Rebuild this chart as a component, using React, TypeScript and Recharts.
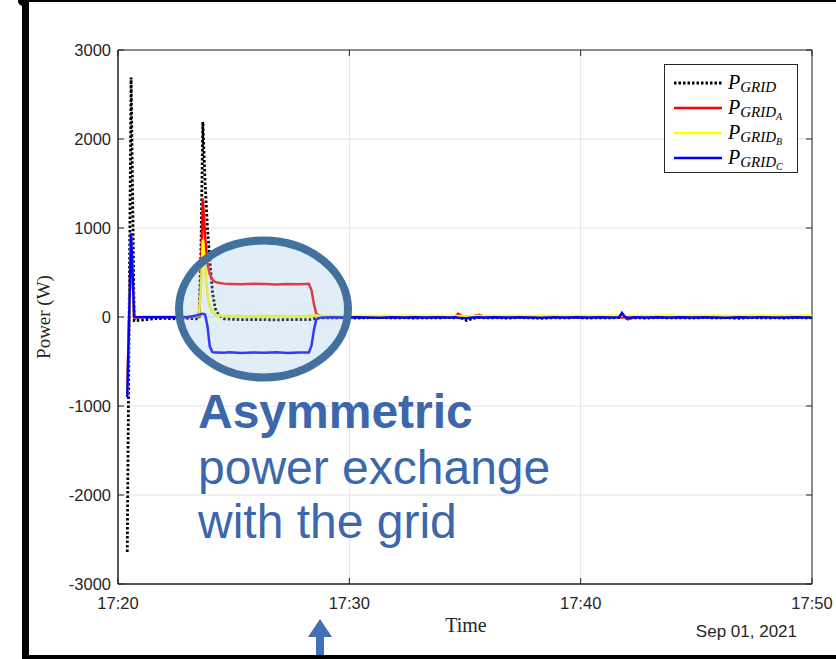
import React from 'react'
import { LineChart, Line, XAxis, YAxis, CartesianGrid, ReferenceArea } from 'recharts'

// seconds after 17:20:00
const times = [
  24, 34, 42, 60, 90, 120, 150, 180, 200, 210,
  215, 220, 226, 232, 238, 245, 252, 260, 275, 290,
  320, 350, 380, 410, 440, 470, 495, 502, 508, 514,
  520, 530, 560, 590, 620, 650, 680, 710, 740, 770,
  800, 830, 860, 875, 882, 892, 905, 920, 937, 950,
  980, 1010, 1040, 1070, 1100, 1130, 1160, 1190, 1220, 1250,
  1280, 1300, 1307, 1315, 1323, 1340, 1370, 1400, 1430, 1460,
  1490, 1520, 1550, 1580, 1610, 1640, 1670, 1700, 1730, 1760,
  1790, 1800,
]

// total grid power (W)
const pGrid = [
  -2640, 2690, -40, -35, -20, -15, -20, -15, -20, -20,
  700, 2190, 1500, 1000, 650, 280, 100, 30, -20, -25,
  -30, -28, -30, -32, -30, -28, -30, -25, -20, -15,
  -10, -8, -10, -5, -12, -8, -5, -10, -8, -12,
  -8, -10, -5, -10, 5, -15, -40, -15, -5, -10,
  -8, -12, -6, -10, -14, -8, -10, -6, -12, -8,
  -10, -6, 10, -12, -15, -8, -12, -6, -10, -8,
  -12, -6, -10, -8, -14, -6, -10, -8, -12, -6,
  -10, -8,
]

// phase A
const pGridA = [
  -880, 900, -10, 0, 5, 0, 5, 0, 5, 0,
  400, 1330, 900, 600, 480, 420, 395, 385, 375, 372,
  368, 374, 370, 366, 372, 368, 374, 300, 150, 40,
  15, 10, 5, 8, 3, 6, 4, 8, 5, 7,
  4, 6, 5, 10, 35, 10, 5, 8, 25, 5,
  6, 3, 7, 4, 8, 5, 3, 7, 4, 6,
  5, 3, -5, 0, -25, 3, 6, 4, 7, 5,
  3, 6, 4, 7, 5, 3, 6, 4, 7, 5,
  4, 6,
]

// phase B
const pGridB = [
  -890, 920, -5, 5, 8, 5, 8, 5, 6, 20,
  300, 870, 550, 250, 120, 55, 30, 18, 12, 10,
  12, 8, 14, 10, 12, 9, 13, 15, 18, 20,
  15, 12, 14, 10, 15, 12, 14, 11, 15, 13,
  12, 15, 11, 14, 12, 10, 5, 12, 14, 11,
  14, 12, 15, 11, 13, 15, 12, 14, 11, 15,
  13, 15, 20, 14, 12, 15, 11, 14, 16, 12,
  15, 13, 16, 12, 15, 14, 16, 13, 15, 14,
  16, 15,
]

// phase C
const pGridC = [
  -900, 940, 0, -3, -2, -4, -2, -3, 15, 25,
  30, 35, 28, -100, -330, -395, -400, -398, -402, -396,
  -404, -398, -402, -396, -404, -398, -400, -320, -150, -30,
  -12, -5, -3, -6, -2, -5, -8, -3, -6, -4,
  -7, -3, -5, -2, -8, -10, -15, -5, -3, -6,
  -4, -7, -3, -5, -8, -4, -6, -3, -7, -4,
  -5, -3, 45, 0, -8, -4, -6, -3, -7, -4,
  -6, -3, -5, -8, -4, -6, -3, -7, -5, -4,
  -6, -5,
]

const xTicks = [0, 600, 1200, 1800]
const xTickLabels = ['17:20', '17:30', '17:40', '17:50']
const yTicks = [-3000, -2000, -1000, 0, 1000, 2000, 3000]

const series = [
  { key: 'grid', sub: '', color: '#000000', width: 2.8, dash: '2.5 2' },
  { key: 'a', sub: 'A', color: '#ff0000', width: 2.5, dash: undefined },
  { key: 'b', sub: 'B', color: '#ffff00', width: 2.5, dash: undefined },
  { key: 'c', sub: 'C', color: '#0000ff', width: 2.5, dash: undefined },
]

const data = times.map((t, i) => ({ t, grid: pGrid[i], a: pGridA[i], b: pGridB[i], c: pGridC[i] }))

const W = 836
const H = 659
const PLOT = { left: 118, right: 812, top: 50, bottom: 584 }
const AXIS = '#262626'
const SANS = '"Liberation Sans", Arial, sans-serif'
const SERIF = '"Liberation Serif", "Times New Roman", serif'
const NOTE = '#3c67ac'

function XTick({ x, payload }: any) {
  const i = xTicks.indexOf(payload.value)
  return (
    <g>
      <line x1={x} x2={x} y1={PLOT.bottom} y2={PLOT.bottom - 6} stroke={AXIS} />
      <line x1={x} x2={x} y1={PLOT.top} y2={PLOT.top + 6} stroke={AXIS} />
      <text x={x} y={PLOT.bottom + 25} textAnchor="middle" fontSize={16.5} fontFamily={SANS} fill={AXIS}>
        {xTickLabels[i]}
      </text>
    </g>
  )
}

function YTick({ y, payload }: any) {
  return (
    <g>
      <line x1={PLOT.left} x2={PLOT.left + 6} y1={y} y2={y} stroke={AXIS} />
      <line x1={PLOT.right} x2={PLOT.right - 6} y1={y} y2={y} stroke={AXIS} />
      <text x={PLOT.left - 7} y={y + 6} textAnchor="end" fontSize={16.5} fontFamily={SANS} fill={AXIS}>
        {payload.value}
      </text>
    </g>
  )
}

function LegendBox() {
  return (
    <svg width={134} height={109} style={{ position: 'absolute', left: 664, top: 64 }}>
      <rect x={0.5} y={0.5} width={133} height={108} fill="#fff" stroke={AXIS} />
      {series.map((s, i) => {
        const y = 19 + i * 25
        return (
          <g key={s.key}>
            <line x1={10} x2={58} y1={y} y2={y} stroke={s.color} strokeWidth={s.width} strokeDasharray={s.dash} />
            <text x={64} y={y + 6} fontFamily={SERIF} fontStyle="italic" fontSize={20} fill="#000">
              P
              <tspan fontSize={15} dy={3}>GRID</tspan>
              {s.sub && <tspan fontSize={10} dy={3}>{s.sub}</tspan>}
            </text>
          </g>
        )
      })}
    </svg>
  )
}

export default function App() {
  return (
    <div style={{ position: 'absolute', left: 0, top: 0, width: W, height: H, background: '#fff', overflow: 'hidden' }}>
      <LineChart width={W} height={H} data={data} margin={{ top: 50, right: 24, bottom: 45, left: 58 }}>
        <CartesianGrid stroke="#e3e3e3" />
        <XAxis
          dataKey="t"
          type="number"
          domain={[0, 1800]}
          ticks={xTicks}
          height={30}
          tickSize={0}
          tickMargin={0}
          tick={<XTick />}
          stroke={AXIS}
        />
        <YAxis
          type="number"
          domain={[-3000, 3000]}
          ticks={yTicks}
          width={60}
          tickSize={0}
          tickMargin={0}
          tick={<YTick />}
          stroke={AXIS}
        />
        <ReferenceArea x1={0} x2={1800} y1={-3000} y2={3000} fill="none" stroke={AXIS} />
        {series.map(s => (
          <Line
            key={s.key}
            type="linear"
            dataKey={s.key}
            stroke={s.color}
            strokeWidth={s.width}
            strokeDasharray={s.dash}
            dot={false}
            isAnimationActive={false}
          />
        ))}
      </LineChart>

      <LegendBox />

      <svg width={W} height={H} style={{ position: 'absolute', left: 0, top: 0, pointerEvents: 'none' }}>
        <text
          transform="translate(50,317) rotate(-90)"
          textAnchor="middle"
          fontFamily={SERIF}
          fontSize={19}
          fill={AXIS}
        >
          Power (W)
        </text>
        <text x={466} y={632} textAnchor="middle" fontFamily={SERIF} fontSize={20} fill={AXIS}>Time</text>
        <text x={797} y={637} textAnchor="end" fontFamily={SANS} fontSize={17} fill={AXIS}>Sep 01, 2021</text>

        <ellipse cx={263.5} cy={309} rx={84.5} ry={68.5} fill="#9dc3e6" fillOpacity={0.3} stroke="#41719c" strokeWidth={8} />

        <text fontFamily={SANS} fontSize={48} fill={NOTE}>
          <tspan x={198} y={428} fontWeight="bold">Asymmetric</tspan>
          <tspan x={198} y={484}>power exchange</tspan>
          <tspan x={198} y={538}>with the grid</tspan>
        </text>

        <polygon points="320,619 308,637 332,637" fill="#4170b8" />
        <rect x={316} y={636} width={8} height={23} fill="#4170b8" />
      </svg>

      <div style={{ position: 'absolute', left: 22, top: 0, width: 7, height: H, background: '#000' }} />
      <div style={{ position: 'absolute', left: 22, top: 0, width: W - 22, height: 2, background: '#000' }} />
      <div style={{ position: 'absolute', left: 22, top: 655, width: W - 22, height: 4, background: '#000' }} />
      <div style={{ position: 'absolute', left: 18, top: -4, width: 11, height: 10, borderRadius: 5, background: '#000' }} />
    </div>
  )
}
